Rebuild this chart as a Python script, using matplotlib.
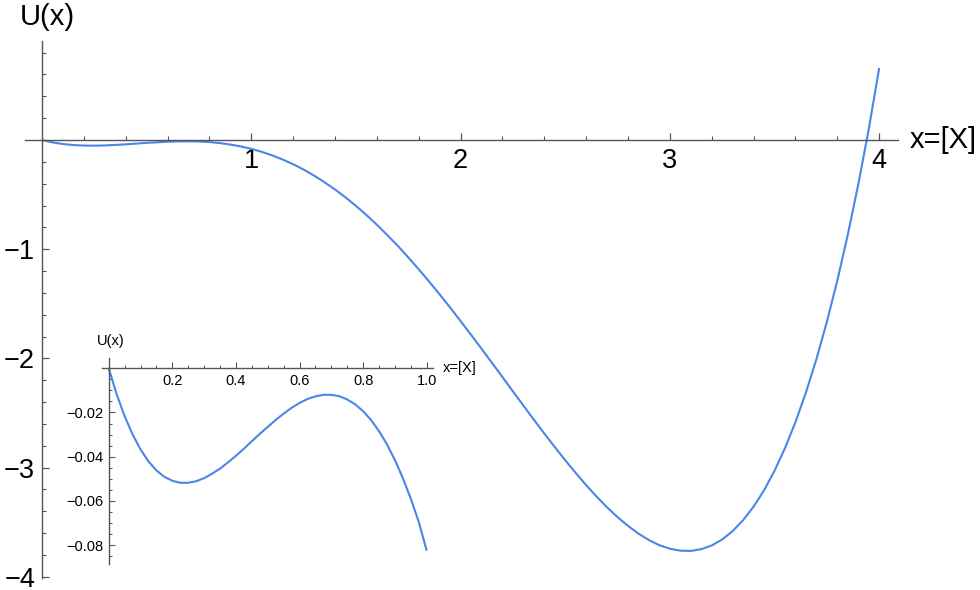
import numpy as np
import matplotlib
matplotlib.use("Agg")
import matplotlib.pyplot as plt
from matplotlib.ticker import FixedLocator

plt.rcParams['font.family'] = ['Liberation Sans', 'DejaVu Sans']

# ---- data ----
main_x = [0.0, 0.05, 0.1, 0.15, 0.2, 0.25, 0.3, 0.35, 0.4, 0.45,
          0.5, 0.55, 0.6, 0.65, 0.7, 0.75, 0.8, 0.85, 0.9, 0.95,
          1.0, 1.05, 1.1, 1.15, 1.2, 1.25, 1.3, 1.35, 1.4, 1.45,
          1.5, 1.55, 1.6, 1.65, 1.7, 1.75, 1.8, 1.85, 1.9, 1.95,
          2.0, 2.05, 2.1, 2.15, 2.2, 2.25, 2.3, 2.35, 2.4, 2.45,
          2.5, 2.55, 2.6, 2.65, 2.7, 2.75, 2.8, 2.85, 2.9, 2.95,
          3.0, 3.05, 3.1, 3.15, 3.2, 3.25, 3.3, 3.35, 3.4, 3.45,
          3.5, 3.55, 3.6, 3.65, 3.7, 3.75, 3.8, 3.85, 3.9, 3.95, 4.0]
main_u = [0.0, -0.022, -0.037, -0.046, -0.051, -0.052, -0.050, -0.045, -0.040, -0.033,
          -0.026, -0.021, -0.016, -0.013, -0.012, -0.014, -0.019, -0.028, -0.042, -0.059,
          -0.081, -0.108, -0.141, -0.179, -0.222, -0.271, -0.326, -0.387, -0.453, -0.525,
          -0.603, -0.687, -0.776, -0.871, -0.970, -1.075, -1.184, -1.297, -1.414, -1.534,
          -1.658, -1.784, -1.912, -2.041, -2.171, -2.302, -2.432, -2.561, -2.688, -2.812,
          -2.933, -3.049, -3.161, -3.266, -3.364, -3.454, -3.534, -3.605, -3.664, -3.711,
          -3.743, -3.761, -3.763, -3.747, -3.713, -3.658, -3.581, -3.481, -3.357, -3.207,
          -3.029, -2.821, -2.583, -2.312, -2.007, -1.665, -1.286, -0.867, -0.406, 0.098, 0.660]

inset_x = [0.0, 0.025, 0.05, 0.075, 0.1, 0.125, 0.15, 0.175, 0.2, 0.225,
           0.25, 0.275, 0.3, 0.325, 0.35, 0.375, 0.4, 0.425, 0.45, 0.475,
           0.5, 0.525, 0.55, 0.575, 0.6, 0.625, 0.65, 0.675, 0.7, 0.725,
           0.75, 0.775, 0.8, 0.825, 0.85, 0.875, 0.9, 0.925, 0.95, 0.975, 1.0]
inset_u = [0.0, -0.0117, -0.0216, -0.0299, -0.0367, -0.0421, -0.0462, -0.0491, -0.0509, -0.0518,
           -0.0518, -0.0511, -0.0497, -0.0477, -0.0454, -0.0426, -0.0396, -0.0364, -0.0330, -0.0297,
           -0.0265, -0.0234, -0.0205, -0.0179, -0.0157, -0.0139, -0.0127, -0.0120, -0.0120, -0.0126,
           -0.0141, -0.0163, -0.0194, -0.0234, -0.0284, -0.0344, -0.0415, -0.0497, -0.0590, -0.0695, -0.0825]

main_xticks = [1, 2, 3, 4]
main_yticks = [-1, -2, -3, -4]
inset_xticks = [0.2, 0.4, 0.6, 0.8, 1.0]
inset_yticks = [-0.02, -0.04, -0.06, -0.08]

LINE = '#4a86e8'
AX = '#555555'

W, H = 980, 590
fig = plt.figure(figsize=(9.8, 5.9), dpi=100)

# ---- main axes ----
ax = fig.add_axes([0, 0, 1, 1])
ax.patch.set_alpha(0)
x0, y0, sx, sy = 42.0, 140.0, 209.3, 109.2
ax.set_xlim(-x0 / sx, (W - x0) / sx)
ax.set_ylim(-(H - y0) / sy, y0 / sy)
for s in ['top', 'right']:
    ax.spines[s].set_visible(False)
ax.spines['left'].set_position(('data', 0))
ax.spines['bottom'].set_position(('data', 0))
ax.spines['left'].set_bounds(-4.01, 0.907)
ax.spines['bottom'].set_bounds(-0.08, 4.09)
for s in ['left', 'bottom']:
    ax.spines[s].set_color(AX)
    ax.spines[s].set_linewidth(1.0)

ax.plot(main_x, main_u, color=LINE, lw=1.5, solid_capstyle='butt',
        solid_joinstyle='round', clip_on=False)

ax.xaxis.set_major_locator(FixedLocator(main_xticks))
ax.xaxis.set_minor_locator(FixedLocator([i * 0.2 for i in range(1, 21) if i % 5]))
ax.yaxis.set_major_locator(FixedLocator(main_yticks))
ax.yaxis.set_minor_locator(FixedLocator([i * 0.2 for i in range(-19, 5) if i % 5]))
ax.set_xticklabels([str(v) for v in main_xticks])
ax.set_yticklabels(['\u2212' + str(-v) for v in main_yticks])
ax.tick_params(axis='x', which='major', direction='in', length=5, width=0.9, color=AX,
               labelsize=19.5, pad=6)
ax.tick_params(axis='x', which='minor', direction='in', length=3, width=0.8, color=AX)
ax.tick_params(axis='y', which='major', direction='in', length=5, width=0.9, color=AX,
               labelsize=19.5, pad=5)
ax.tick_params(axis='y', which='minor', direction='in', length=3, width=0.8, color=AX)
for lbl in ax.get_yticklabels():
    lbl.set_verticalalignment('center_baseline')

ax.text(0.024, 1.13, 'U(x)', fontsize=21, ha='center', va='center')
ax.text(4.145, 0.0, 'x=[X]', fontsize=21, ha='left', va='center')

# ---- inset axes ----
L, R, T, B = 60, 470, 330, 570
ix0, iy0, isx, isy = 108.7, 368.3, 318.0, 2210.0
ins = fig.add_axes([L / W, (H - B) / H, (R - L) / W, (B - T) / H])
ins.patch.set_alpha(0)
ins.set_xlim((L - ix0) / isx, (R - ix0) / isx)
ins.set_ylim(-(B - iy0) / isy, (iy0 - T) / isy)
for s in ['top', 'right']:
    ins.spines[s].set_visible(False)
ins.spines['left'].set_position(('data', 0))
ins.spines['bottom'].set_position(('data', 0))
ins.spines['left'].set_bounds(-0.0885, 0.0047)
ins.spines['bottom'].set_bounds(-0.02, 1.02)
for s in ['left', 'bottom']:
    ins.spines[s].set_color(AX)
    ins.spines[s].set_linewidth(1.0)

ins.plot(inset_x, inset_u, color=LINE, lw=1.5, solid_capstyle='butt',
         solid_joinstyle='round', clip_on=False)

ins.xaxis.set_major_locator(FixedLocator(inset_xticks))
ins.xaxis.set_minor_locator(FixedLocator([i * 0.05 for i in range(1, 21) if i % 4]))
ins.yaxis.set_major_locator(FixedLocator(inset_yticks))
ins.yaxis.set_minor_locator(FixedLocator([-i * 0.005 for i in range(1, 18) if i % 4]))
ins.set_xticklabels([f'{v:.1f}' for v in inset_xticks])
ins.set_yticklabels(['\u2212' + f'{-v:.2f}' for v in inset_yticks])
ins.tick_params(axis='x', which='major', direction='in', length=4, width=0.8, color=AX,
                labelsize=10.5, pad=4)
ins.tick_params(axis='x', which='minor', direction='in', length=2.2, width=0.7, color=AX)
ins.tick_params(axis='y', which='major', direction='in', length=4, width=0.8, color=AX,
                labelsize=10.5, pad=4)
ins.tick_params(axis='y', which='minor', direction='in', length=2.2, width=0.7, color=AX)

ins.text(0.008, 0.0125, 'U(x)', fontsize=10.5, ha='center', va='center')
ins.text(1.05, 0.0, 'x=[X]', fontsize=10.5, ha='left', va='center')

fig.savefig('out.png', dpi=100)
